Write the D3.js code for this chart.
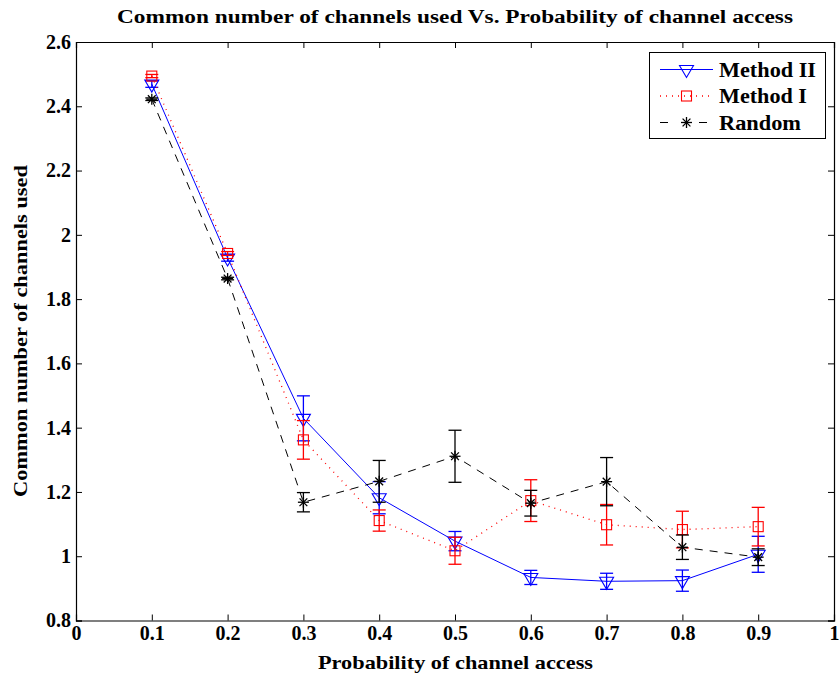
<!DOCTYPE html>
<html>
<head>
<meta charset="utf-8">
<script src="https://cdn.jsdelivr.net/npm/d3@7"></script>
<style>
body { margin: 0; background: #fff; }
text { font-family: "Liberation Serif", "Times New Roman", serif; font-weight: bold; }
</style>
</head>
<body>
<div id="chart"></div>
<script>
var probs = [0.1, 0.2, 0.3, 0.4, 0.5, 0.6, 0.7, 0.8, 0.9];

var method2 = [2.469, 1.928, 1.429, 1.182, 1.047, 0.934, 0.922, 0.924, 1.006];
var method2Err = [0.01, 0.01, 0.07, 0.05, 0.03, 0.022, 0.025, 0.033, 0.056];

var method1 = [2.494, 1.942, 1.362, 1.111, 1.017, 1.173, 1.098, 1.083, 1.092];
var method1Err = [0.005, 0.006, 0.06, 0.033, 0.042, 0.065, 0.063, 0.057, 0.06];

var randomVals = [2.422, 1.864, 1.168, 1.233, 1.311, 1.165, 1.232, 1.028, 0.997];
var randomErr = [0.004, 0.004, 0.03, 0.065, 0.081, 0.04, 0.075, 0.038, 0.026];

var xTicks = [0, 0.1, 0.2, 0.3, 0.4, 0.5, 0.6, 0.7, 0.8, 0.9, 1];
var yTicks = [0.8, 1, 1.2, 1.4, 1.6, 1.8, 2, 2.2, 2.4, 2.6];

var width = 840, height = 677;
var margin = { top: 42, bottom: 56, left: 76, right: 6 };

var svg = d3.select('#chart')
    .append('svg')
    .attr('width', width)
    .attr('height', height);

var x_scale = d3.scaleLinear().domain([0, 1]).range([margin.left, width - margin.right]);
var y_scale = d3.scaleLinear().domain([0.8, 2.6]).range([height - margin.bottom - 0.5, margin.top]);

var x0 = x_scale(0), x1 = x_scale(1), y0 = y_scale(0.8), y1 = y_scale(2.6);

// axes (ticks pointing inward, box on all four sides)
var bottomAxis = d3.axisBottom(x_scale).tickValues(xTicks).tickSize(-6).tickPadding(5)
    .tickFormat(function (d) { return d3.format('')(d); });
var topAxis = d3.axisTop(x_scale).tickValues(xTicks).tickSize(-6).tickFormat('');
var leftAxis = d3.axisLeft(y_scale).tickValues(yTicks).tickSize(-6).tickPadding(5)
    .tickFormat(function (d) { return d3.format('')(d); });
var rightAxis = d3.axisRight(y_scale).tickValues(yTicks).tickSize(-6).tickFormat('');

function styleAxis(g) {
    g.selectAll('path').attr('stroke', '#000').attr('stroke-width', 1.2);
    g.selectAll('line').attr('stroke', '#000');
    g.selectAll('text').attr('fill', '#000').style('font-size', '20px')
        .style('font-family', '"Liberation Serif", serif').style('font-weight', 'bold');
}

svg.append('g').attr('transform', 'translate(0,' + y0 + ')').call(bottomAxis).call(styleAxis);
svg.append('g').attr('transform', 'translate(0,' + y1 + ')').call(topAxis).call(styleAxis);
svg.append('g').attr('transform', 'translate(' + x0 + ',0)').call(leftAxis).call(styleAxis);
svg.append('g').attr('transform', 'translate(' + x1 + ',0)').call(rightAxis).call(styleAxis);

// titles - the original lettering is wider than plain Times, so stretch to its measured width
svg.append('text')
    .attr('x', 117).attr('y', 23)
    .attr('textLength', 676).attr('lengthAdjust', 'spacingAndGlyphs')
    .style('font-size', '18px')
    .text('Common number of channels used Vs. Probability of channel access');

svg.append('text')
    .attr('x', 318).attr('y', 669)
    .attr('textLength', 275).attr('lengthAdjust', 'spacingAndGlyphs')
    .style('font-size', '19px')
    .text('Probability of channel access');

svg.append('text')
    .attr('transform', 'translate(27,497) rotate(-90)')
    .attr('textLength', 332).attr('lengthAdjust', 'spacingAndGlyphs')
    .style('font-size', '19px')
    .text('Common number of channels used');

var series = [
    { name: 'Method II', values: method2, err: method2Err, color: '#0000ff', dash: null, marker: 'tri', len: 97 },
    { name: 'Method I', values: method1, err: method1Err, color: '#ff0000', dash: '1,5', marker: 'square', len: 88 },
    { name: 'Random', values: randomVals, err: randomErr, color: '#000000', dash: '8,7', marker: 'star', len: 82 }
];

var line = d3.line()
    .x(function (d) { return x_scale(d.x); })
    .y(function (d) { return y_scale(d.y); });

function drawMarker(g, type, cx, cy, color) {
    if (type === 'tri') {
        g.append('path')
            .attr('d', 'M' + (cx - 7) + ',' + (cy - 4) + 'L' + (cx + 7) + ',' + (cy - 4) + 'L' + cx + ',' + (cy + 8) + 'Z')
            .attr('fill', 'none').attr('stroke', color).attr('stroke-width', 1.1);
    } else if (type === 'square') {
        g.append('rect')
            .attr('x', cx - 5).attr('y', cy - 5).attr('width', 10).attr('height', 10)
            .attr('fill', 'none').attr('stroke', color).attr('stroke-width', 1.1);
    } else {
        var r = 5.5;
        [0, 45, 90, 135].forEach(function (a) {
            var rad = a * Math.PI / 180;
            g.append('line')
                .attr('x1', cx - r * Math.cos(rad)).attr('y1', cy - r * Math.sin(rad))
                .attr('x2', cx + r * Math.cos(rad)).attr('y2', cy + r * Math.sin(rad))
                .attr('stroke', color).attr('stroke-width', 1.3);
        });
    }
}

series.forEach(function (s) {
    var pts = probs.map(function (p, i) { return { x: p, y: s.values[i], e: s.err[i] }; });
    var g = svg.append('g');

    g.append('path')
        .datum(pts)
        .attr('d', line)
        .attr('fill', 'none')
        .attr('stroke', s.color)
        .attr('stroke-width', s.marker === 'square' ? 1.3 : 1)
        .attr('stroke-dasharray', s.dash);

    // error bars
    pts.forEach(function (d) {
        var cx = x_scale(d.x);
        var ty = y_scale(d.y + d.e), by = y_scale(d.y - d.e);
        g.append('line').attr('x1', cx).attr('x2', cx).attr('y1', ty).attr('y2', by)
            .attr('stroke', s.color).attr('stroke-width', 1.3);
        [ty, by].forEach(function (yy) {
            g.append('line').attr('x1', cx - 6.5).attr('x2', cx + 6.5).attr('y1', yy).attr('y2', yy)
                .attr('stroke', s.color).attr('stroke-width', 1.3);
        });
    });

    pts.forEach(function (d) {
        drawMarker(g, s.marker, x_scale(d.x), y_scale(d.y), s.color);
    });
});

// legend
var legend = svg.append('g');
legend.append('rect')
    .attr('x', 649.5).attr('y', 52.5).attr('width', 176).attr('height', 86)
    .attr('fill', '#fff').attr('stroke', '#000').attr('stroke-width', 1);

series.forEach(function (s, i) {
    var ly = 69.5 + i * 26.5;
    legend.append('line')
        .attr('x1', 660).attr('x2', 713).attr('y1', ly).attr('y2', ly)
        .attr('stroke', s.color)
        .attr('stroke-width', s.marker === 'square' ? 1.3 : 1)
        .attr('stroke-dasharray', s.marker === 'star' ? '8,31' : s.dash);
    drawMarker(legend, s.marker, 686.5, ly, s.color);
    legend.append('text')
        .attr('x', 719).attr('y', ly + 7)
        .attr('textLength', s.len).attr('lengthAdjust', 'spacingAndGlyphs')
        .style('font-size', '20px')
        .text(s.name);
});
</script>
</body>
</html>
